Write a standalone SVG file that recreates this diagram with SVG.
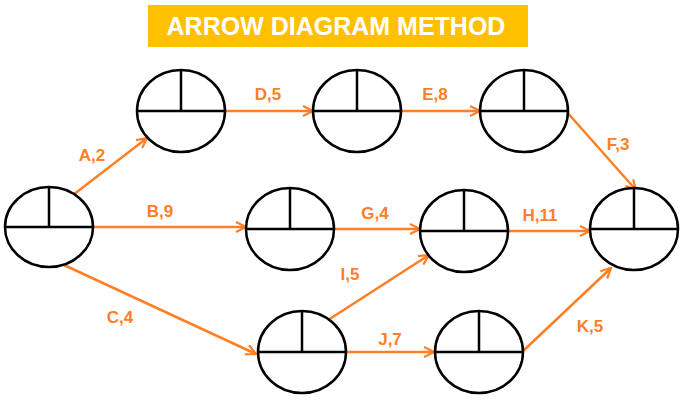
<svg xmlns="http://www.w3.org/2000/svg" width="690" height="400" viewBox="0 0 690 400">
<style>
.n ellipse{fill:#fff;stroke:#000;stroke-width:2.5}
.n line{stroke:#000;stroke-width:2.5}
.e line{stroke:#FF7F27;stroke-width:2.5;marker-end:url(#ah)}
.l{font-family:"Liberation Sans",Arial,sans-serif;font-weight:bold;font-size:17px;fill:#FF7F27;text-anchor:middle}
</style>
<defs><marker id="ah" viewBox="0 0 12 12" refX="11" refY="6" markerWidth="12" markerHeight="12" markerUnits="userSpaceOnUse" orient="auto"><path d="M1,1 L11,6 L1,11" fill="none" stroke="#FF7F27" stroke-width="2.2"/></marker></defs>
<rect width="690" height="400" fill="#fff"/>
<rect x="148" y="5" width="380" height="42" fill="#FFC000"/>
<text x="336" y="35" font-family="Liberation Sans,Arial,sans-serif" font-weight="bold" font-size="25" fill="#fff" text-anchor="middle">ARROW DIAGRAM METHOD</text>
<g class="e" id="connectors">
<line x1="73" y1="195" x2="147" y2="138"/>
<line x1="224" y1="111" x2="313" y2="111"/>
<line x1="401" y1="111" x2="480" y2="111"/>
<line x1="566" y1="111" x2="636" y2="190"/>
<line x1="93" y1="227" x2="246" y2="227"/>
<line x1="334" y1="229" x2="420" y2="229"/>
<line x1="508" y1="231" x2="590" y2="231"/>
<line x1="325" y1="322" x2="429" y2="255"/>
<line x1="346" y1="352" x2="434" y2="352"/>
<line x1="64" y1="265" x2="256" y2="354"/>
<line x1="522" y1="352" x2="611" y2="268"/>
</g>
<g class="l">
<text x="92" y="161">A,2</text><text x="268" y="100">D,5</text><text x="435" y="100">E,8</text>
<text x="618" y="150">F,3</text><text x="160" y="217">B,9</text><text x="375" y="219">G,4</text>
<text x="540" y="221">H,11</text><text x="350" y="280">I,5</text><text x="390" y="345">J,7</text>
<text x="120" y="323">C,4</text><text x="590" y="332">K,5</text>
</g>
<g class="n" id="n1"><ellipse cx="49" cy="227" rx="44" ry="40"/><line x1="5" y1="227" x2="93" y2="227"/><line x1="49" y1="187" x2="49" y2="227"/></g>
<g class="n" id="n2"><ellipse cx="181" cy="111" rx="44" ry="41"/><line x1="137" y1="111" x2="225" y2="111"/><line x1="181" y1="70" x2="181" y2="111"/></g>
<g class="n" id="n3"><ellipse cx="357" cy="111" rx="44" ry="41"/><line x1="313" y1="111" x2="401" y2="111"/><line x1="357" y1="70" x2="357" y2="111"/></g>
<g class="n" id="n4"><ellipse cx="524" cy="111" rx="44" ry="41"/><line x1="480" y1="111" x2="568" y2="111"/><line x1="524" y1="70" x2="524" y2="111"/></g>
<g class="n" id="n5"><ellipse cx="290" cy="229" rx="44" ry="41"/><line x1="246" y1="229" x2="334" y2="229"/><line x1="290" y1="188" x2="290" y2="229"/></g>
<g class="n" id="n6"><ellipse cx="464" cy="231" rx="44" ry="41"/><line x1="420" y1="231" x2="508" y2="231"/><line x1="464" y1="190" x2="464" y2="231"/></g>
<g class="n" id="n7"><ellipse cx="634" cy="229" rx="44" ry="41"/><line x1="590" y1="229" x2="678" y2="229"/><line x1="634" y1="188" x2="634" y2="229"/></g>
<g class="n" id="n8"><ellipse cx="302" cy="352" rx="44" ry="41"/><line x1="258" y1="352" x2="346" y2="352"/><line x1="302" y1="311" x2="302" y2="352"/></g>
<g class="n" id="n9"><ellipse cx="479" cy="352" rx="44" ry="41"/><line x1="435" y1="352" x2="523" y2="352"/><line x1="479" y1="311" x2="479" y2="352"/></g>
</svg>
